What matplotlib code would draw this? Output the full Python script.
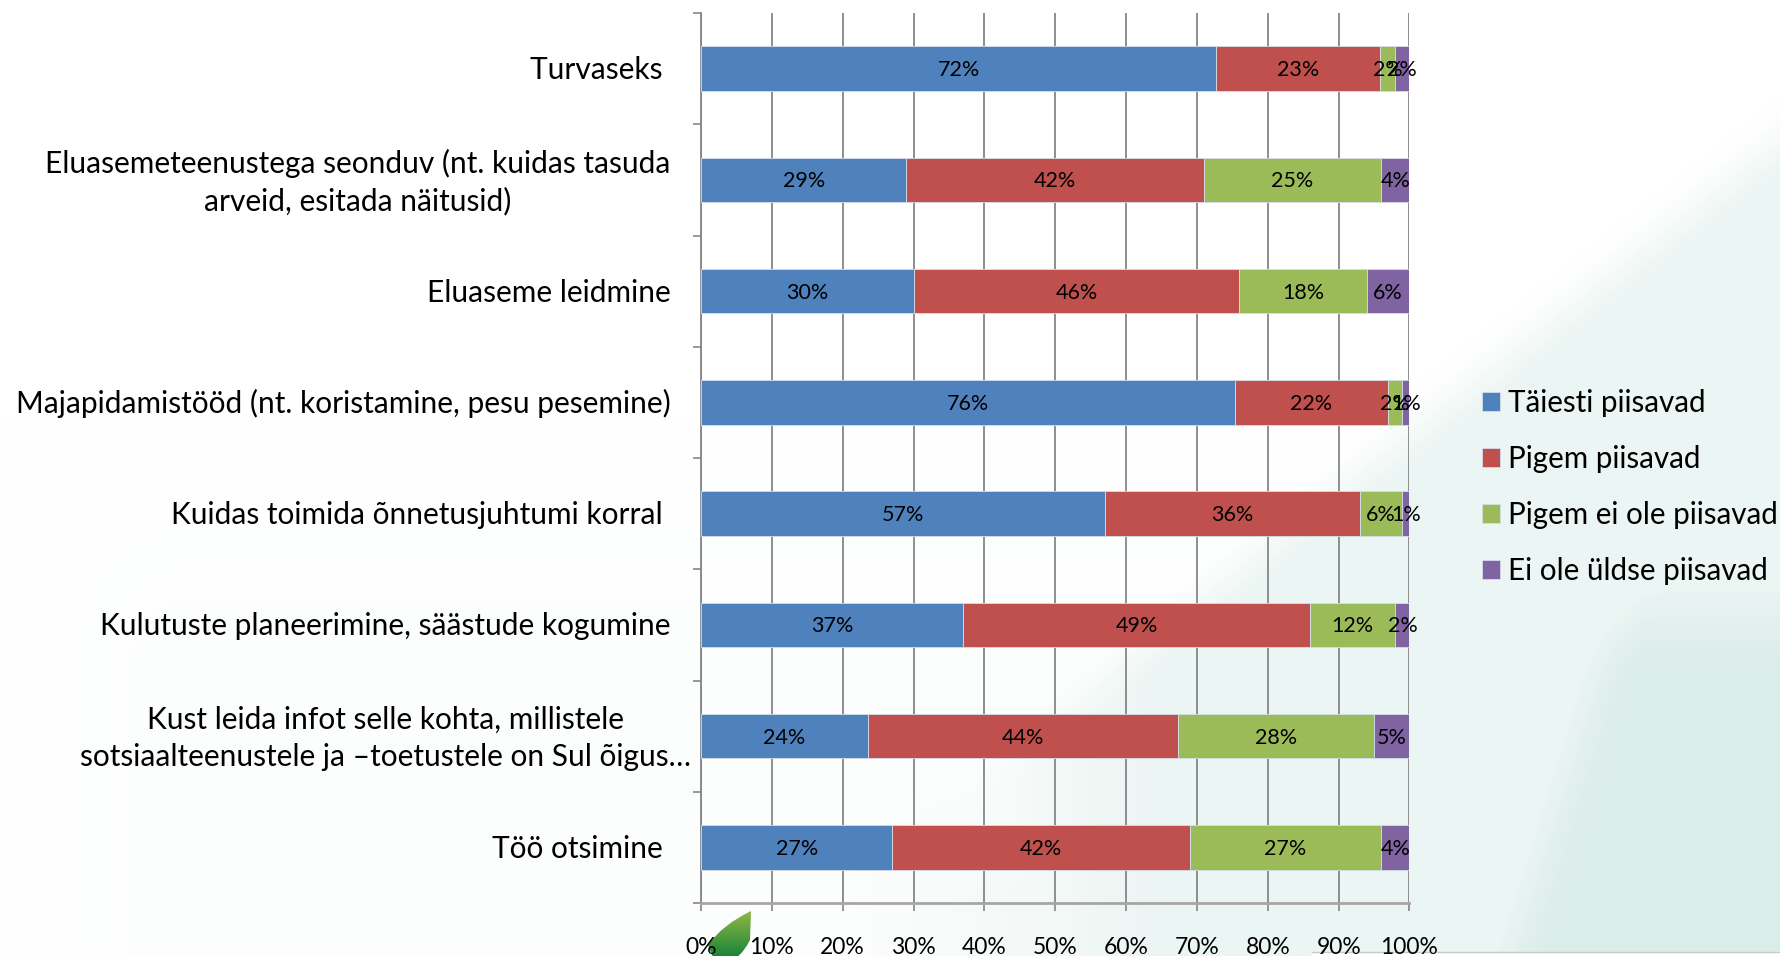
"""
Stacked percent bars: how sufficient the skills are, per topic.
"""
import matplotlib
matplotlib.use('Agg')
import matplotlib.pyplot as plt
import numpy as np
from matplotlib.patches import PathPatch, Rectangle
from matplotlib.path import Path
from matplotlib.transforms import ScaledTranslation

plt.rcParams['font.family'] = ['Lato', 'DejaVu Sans']

W, H = 1781, 956

categories = [
    'Turvaseks ',
    'Eluasemeteenustega seonduv (nt. kuidas tasuda\narveid, esitada näitusid)',
    'Eluaseme leidmine',
    'Majapidamistööd (nt. koristamine, pesu pesemine)',
    'Kuidas toimida õnnetusjuhtumi korral ',
    'Kulutuste planeerimine, säästude kogumine',
    'Kust leida infot selle kohta, millistele\nsotsiaalteenustele ja –toetustele on Sul õigus…',
    'Töö otsimine ',
]
series_names = ['Täiesti piisavad', 'Pigem piisavad', 'Pigem ei ole piisavad', 'Ei ole üldse piisavad']
colors = ['#4F81BD', '#C0504D', '#9BBB59', '#8064A2']

# bar lengths as drawn (the chart rounds its labels differently in places)
taiesti = [72.7, 29.0, 30.0, 75.3, 57.0, 37.0, 23.6, 27.0]
pigem = [23.2, 42.0, 46.0, 21.7, 36.0, 49.0, 43.7, 42.0]
pigem_ei = [2.0, 25.0, 18.0, 2.0, 6.0, 12.0, 27.7, 27.0]
ei_ole = [2.1, 4.0, 6.0, 1.0, 1.0, 2.0, 5.0, 4.0]

taiesti_labels = ['72%', '29%', '30%', '76%', '57%', '37%', '24%', '27%']
pigem_labels = ['23%', '42%', '46%', '22%', '36%', '49%', '44%', '42%']
pigem_ei_labels = ['2%', '25%', '18%', '2%', '6%', '12%', '28%', '27%']
ei_ole_labels = ['2%', '4%', '6%', '1%', '1%', '2%', '5%', '4%']

xticks = [0, 10, 20, 30, 40, 50, 60, 70, 80, 90, 100]

fig = plt.figure(figsize=(W / 100, H / 100), dpi=100)

# slide background: white with a pale teal wash towards the lower right
bg = fig.add_axes([0, 0, 1, 1], zorder=0)
X, Y = np.meshgrid(np.arange(W), np.arange(H))


def smooth(v):
    v = np.clip(v, 0, 1)
    return v * v * (3 - 2 * v)


edge = 140 + 0.79 * (W - X)
wash = 0.55 * smooth((Y - edge) / 90 + 0.5) * smooth((X - 850) / 350)
wash = np.maximum(wash, 1.0 * smooth((X - (1600 - (Y - 600) * 0.31)) / 130 + 0.5) * smooth((Y - 480) / 200))
wash = np.maximum(wash, 0.07 * smooth((Y - 420) / 250) * smooth(X / 180))
wash = np.maximum(wash, 0.3 * smooth((Y - 700) / 200) * smooth((X - 750) / 300))
white = np.array([1.0, 1.0, 1.0])
teal = np.array([0.86, 0.93, 0.915])
img = white + wash[..., None] * (teal - white)
bg.imshow(img, extent=(0, W, H, 0), aspect='auto', zorder=0)
bg.set_xlim(0, W)
bg.set_ylim(H, 0)
bg.axis('off')

# footer strip and leaf from the slide template
bg.add_patch(Rectangle((1312, 952), W - 1312, 4, fc='white', ec='none', zorder=1))
bg.plot([1312, W], [952, 952], color='#C4CCCB', lw=1, zorder=2)
leaf_path = Path(
    [(751, 911), (722, 925), (708, 945), (714, 960), (728, 960), (740, 960), (750, 940), (751, 911)],
    [Path.MOVETO, Path.CURVE3, Path.CURVE3, Path.LINETO, Path.LINETO, Path.CURVE3, Path.CURVE3, Path.CLOSEPOLY],
)
leaf_patch = PathPatch(leaf_path, fc='none', ec='none', transform=bg.transData)
bg.add_patch(leaf_patch)
shade = np.linspace(0, 1, 50)[:, None, None]
leaf_img = np.array([0.58, 0.73, 0.27]) + shade * (np.array([0.12, 0.52, 0.22]) - np.array([0.58, 0.73, 0.27]))
leaf = bg.imshow(leaf_img, extent=(700, 756, 956, 909), aspect='auto', zorder=2)
leaf.set_clip_path(leaf_patch)
bg.set_xlim(0, W)
bg.set_ylim(H, 0)

ax = fig.add_axes([701 / W, 1 - 903 / H, 708.5 / W, 890 / H], zorder=2)
ax.patch.set_alpha(0)

y = np.arange(len(categories))
all_values = [taiesti, pigem, pigem_ei, ei_ole]
all_labels = [taiesti_labels, pigem_labels, pigem_ei_labels, ei_ole_labels]
left = np.zeros(len(categories))
for vals, labs, name, col in zip(all_values, all_labels, series_names, colors):
    bars = ax.barh(y, vals, left=left, height=0.4, color=col, edgecolor='#D5DEE8',
                   linewidth=0.6, label=name, zorder=3)
    texts = ax.bar_label(bars, labels=labs, label_type='center', fontsize=15.5, color='black', zorder=4)
    for t in texts:
        t.xyann = (0, -1)
    left = left + np.array(vals)

ax.set_xlim(0, 100)
ax.set_ylim(len(categories) - 0.5, -0.5)
ax.set_xticks(xticks)
ax.set_xticklabels([f'{v}%' for v in xticks], fontsize=16.5)
ax.tick_params(axis='x', length=6, width=1.2, color='#868686', pad=18.5)
ax.xaxis.grid(True, color='#868686', linewidth=1.3, zorder=1)
ax.set_axisbelow(True)

ax.set_yticks(y)
ax.set_yticklabels(categories, fontsize=21.5, ma='center', linespacing=1.4)
ax.set_yticks(np.arange(len(categories) + 1) - 0.5, minor=True)
ax.tick_params(axis='y', which='minor', length=6, width=1.2, color='#868686')
ax.tick_params(axis='y', which='major', length=0)
# the long wrapped label sits closer to the axis than the others
pads = [22, 22, 22, 22, 22, 22, 7, 22]
for tick, pad in zip(ax.yaxis.get_major_ticks(), pads):
    tick.set_pad(pad)
for lab in ax.get_yticklabels():
    # wrapped labels sit a little higher than centred
    lift = 3.5 if '\n' in lab.get_text() else 0.8
    lab.set_transform(lab.get_transform() + ScaledTranslation(0, lift / 72, fig.dpi_scale_trans))

for side in ['top', 'right']:
    ax.spines[side].set_visible(False)
ax.spines['left'].set_color('#868686')
ax.spines['left'].set_linewidth(1.3)
ax.spines['bottom'].set_color('#A6A6A6')
ax.spines['bottom'].set_linewidth(2)

fig.legend(loc='center left', bbox_to_anchor=(1482 / W, 1 - 487 / H), frameon=False,
           fontsize=21.3, handlelength=0.62, handleheight=0.62, handletextpad=0.27,
           labelspacing=0.95, borderpad=0, borderaxespad=0)

fig.savefig('out.png', dpi=100)
